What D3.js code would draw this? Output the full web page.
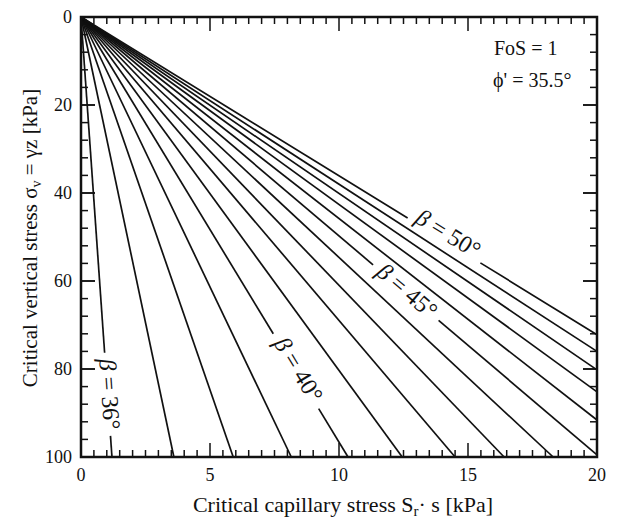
<!DOCTYPE html>
<html>
<head>
<meta charset="utf-8">
<script src="https://cdn.jsdelivr.net/npm/d3@7"></script>
<style>
  html, body { margin: 0; padding: 0; background: #fff; }
  svg { display: block; font-family: "Liberation Serif", "Times New Roman", serif; }
</style>
</head>
<body>
<svg id="chart" width="619" height="518"></svg>
<script>
// Slope angle of each critical-state line (degrees)
const slopeAngles = [36, 37, 38, 39, 40, 41, 42, 43, 44, 45, 46, 47, 48, 49, 50];
// Far end of each line: capillary stress Sr·s [kPa] and vertical stress σv [kPa]
const endCapillary = [1.2, 3.6, 5.9, 8.15, 10.35, 12.45, 14.5, 16.4, 18.3, 20, 20, 20, 20, 20, 20];
const endVertical  = [100, 100, 100, 100, 100, 100, 100, 100, 100, 99.5, 91.6, 85.2, 80.2, 76.0, 72.2];

// Tick values
const xMajorTicks = [0, 5, 10, 15, 20];
const yMajorTicks = [0, 20, 40, 60, 80, 100];
const xMinorStep = 0.5;
const yMinorStep = 4;

// Lines that carry an inline label, with the part of the line left open for the text
const labelledAngles = [36, 40, 45, 50];
const labelGap = { 36: [0.763, 0.952], 40: [0.72, 0.89], 45: [0.566, 0.693], 50: [0.633, 0.774] };
const labelLift = { 36: 2, 40: 3, 45: 2, 50: 8 };

const svg = d3.select("#chart");
const plotL = 81, plotR = 597, plotT = 17, plotB = 457;

const x = d3.scaleLinear().domain([0, 20]).range([plotL, plotR]);
const y = d3.scaleLinear().domain([0, 100]).range([plotT, plotB]);

const lines = slopeAngles.map((b, i) => ({ beta: b, x1: endCapillary[i], y1: endVertical[i] }));

// Critical-state lines, split where a label sits
const g = svg.append("g");
lines.forEach(d => {
  const segs = labelledAngles.includes(d.beta)
    ? [[0, labelGap[d.beta][0]], [labelGap[d.beta][1], 1]]
    : [[0, 1]];
  segs.forEach(([t0, t1]) => {
    g.append("line")
      .attr("x1", x(d.x1 * t0)).attr("y1", y(d.y1 * t0))
      .attr("x2", x(d.x1 * t1)).attr("y2", y(d.y1 * t1))
      .attr("stroke", "#111").attr("stroke-width", 1.7);
  });
});

// Inline labels, rotated along their lines
lines.filter(d => labelledAngles.includes(d.beta)).forEach(d => {
  const [t0, t1] = labelGap[d.beta];
  const tm = (t0 + t1) / 2;
  const px = x(d.x1 * tm), py = y(d.y1 * tm);
  const ang = Math.atan2(y(d.y1) - y(0), x(d.x1) - x(0));
  const lift = labelLift[d.beta];
  const cx = px + lift * Math.sin(ang), cy = py - lift * Math.cos(ang);
  const t = svg.append("text")
    .attr("transform", `translate(${cx},${cy}) rotate(${ang * 180 / Math.PI})`)
    .attr("text-anchor", "middle")
    .attr("dy", "0.33em")
    .attr("font-size", 24)
    .attr("fill", "#111");
  t.append("tspan").attr("font-style", "italic").text("β");
  t.append("tspan").text(` = ${d.beta}°`);
});

// Frame ticks (all pointing inward)
const ticks = svg.append("g").attr("stroke", "#111").attr("stroke-width", 1.5);
const xMinor = d3.range(0, 20 + 1e-9, xMinorStep);
xMinor.forEach(v => {
  const len = xMajorTicks.includes(v) ? 14 : 7;
  ticks.append("line").attr("x1", x(v)).attr("x2", x(v)).attr("y1", plotB).attr("y2", plotB - len);
  ticks.append("line").attr("x1", x(v)).attr("x2", x(v)).attr("y1", plotT).attr("y2", plotT + len);
});
const yMinor = d3.range(0, 100 + 1e-9, yMinorStep).concat(yMajorTicks);
yMinor.forEach(v => {
  const len = yMajorTicks.includes(v) ? 14 : 7;
  ticks.append("line").attr("y1", y(v)).attr("y2", y(v)).attr("x1", plotL).attr("x2", plotL + len);
  ticks.append("line").attr("y1", y(v)).attr("y2", y(v)).attr("x1", plotR).attr("x2", plotR - len);
});

// Frame
svg.append("rect")
  .attr("x", plotL).attr("y", plotT)
  .attr("width", plotR - plotL).attr("height", plotB - plotT)
  .attr("fill", "none").attr("stroke", "#111").attr("stroke-width", 2.5);

// Tick labels
svg.append("g").selectAll("text").data(xMajorTicks).join("text")
  .attr("x", d => x(d)).attr("y", 481)
  .attr("text-anchor", "middle").attr("font-size", 18).attr("fill", "#111")
  .text(d => d);
svg.append("g").selectAll("text").data(yMajorTicks).join("text")
  .attr("x", 72).attr("y", d => y(d)).attr("dy", "0.35em")
  .attr("text-anchor", "end").attr("font-size", 18).attr("fill", "#111")
  .text(d => d);

// Axis titles
const xt = svg.append("text")
  .attr("x", 343).attr("y", 512)
  .attr("text-anchor", "middle").attr("font-size", 22).attr("fill", "#111");
xt.append("tspan").text("Critical capillary stress S");
xt.append("tspan").attr("font-size", 15).attr("dy", 4).text("r");
xt.append("tspan").attr("dy", -4).text("· s [kPa]");

const yt = svg.append("text")
  .attr("transform", `translate(37,238) rotate(-90)`)
  .attr("text-anchor", "middle").attr("font-size", 21).attr("fill", "#111");
yt.append("tspan").text("Critical vertical stress σ");
yt.append("tspan").attr("font-size", 14).attr("dy", 4).text("v");
yt.append("tspan").attr("dy", -4).text(" = γz [kPa]");

// Annotations
svg.append("text").attr("x", 494).attr("y", 55).attr("font-size", 20).attr("fill", "#111").text("FoS = 1");
svg.append("text").attr("x", 493).attr("y", 87).attr("font-size", 20).attr("fill", "#111").text("ϕ' = 35.5°");
</script>
</body>
</html>
